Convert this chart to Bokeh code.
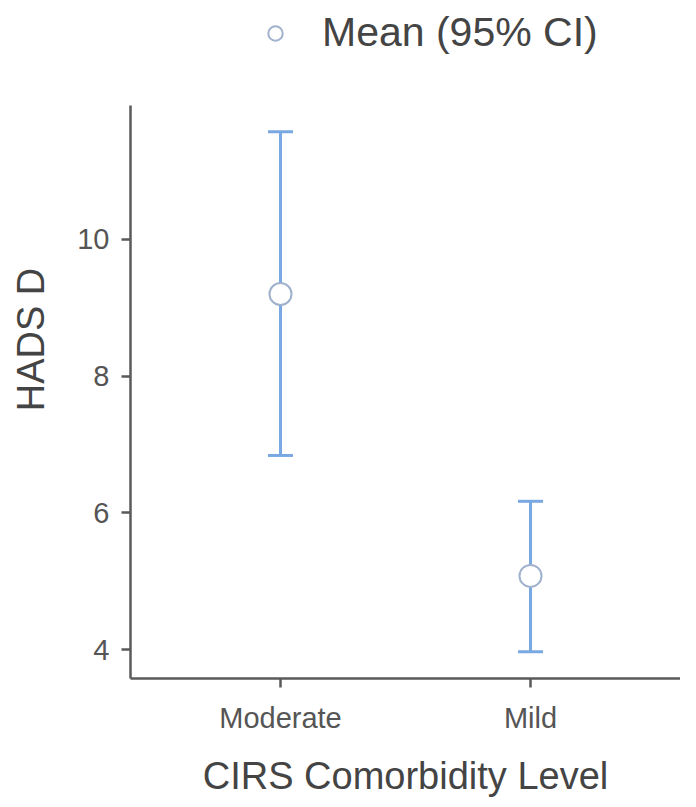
from bokeh.plotting import figure
from bokeh.models import (ColumnDataSource, FactorRange, Range1d, FixedTicker,
                          Whisker, TeeHead, Legend, LegendItem)
from bokeh.embed import file_html
from bokeh.resources import INLINE

# Data
categories = ["Moderate", "Mild"]
means = [9.2, 5.08]
lower = [6.84, 3.97]
upper = [11.57, 6.17]
y_ticks = [4, 6, 8, 10]
y_axis_min, y_axis_max = 3.58, 11.96

src = ColumnDataSource(dict(x=categories, mean=means, lower=lower, upper=upper))

FONT = "Liberation Sans"
BLUE = "#7aa8e2"

# frame extends up to the top so the legend (drawn inside the frame) is not clipped;
# the visible y axis is limited with bounds
p = figure(width=680, height=799, output_backend="svg", toolbar_location=None,
           x_range=FactorRange(factors=categories, range_padding=0.1,
                               range_padding_units="absolute"),
           y_range=Range1d(y_axis_min, 13.49),
           min_border_left=130, min_border_right=0, min_border_top=0,
           min_border_bottom=112)
p.outline_line_color = None
p.grid.visible = False
p.background_fill_color = "white"

wh = Whisker(source=src, base="x", upper="upper", lower="lower",
             line_color=BLUE, line_width=3,
             upper_head=TeeHead(size=25, line_color=BLUE, line_width=3),
             lower_head=TeeHead(size=25, line_color=BLUE, line_width=3))
p.add_layout(wh)

pts = p.scatter("x", "mean", source=src, size=22, marker="circle",
                fill_color="white", line_color="#9fb1cc", line_width=2)

# axes
for ax in (p.xaxis[0], p.yaxis[0]):
    ax.axis_line_color = "#5a5a5a"
    ax.axis_line_width = 2.5
    ax.major_tick_line_color = "#5a5a5a"
    ax.major_tick_line_width = 2.5
    ax.major_tick_out = 9
    ax.major_tick_in = 0
    ax.minor_tick_line_color = None
    ax.major_label_text_font = FONT
    ax.major_label_text_color = "#555555"
    ax.major_label_text_font_size = "29px"
    ax.axis_label_text_font = FONT
    ax.axis_label_text_font_style = "normal"
    ax.axis_label_text_color = "#444444"
    ax.axis_label_text_font_size = "38px"

p.yaxis[0].ticker = FixedTicker(ticks=y_ticks)
p.yaxis[0].bounds = (y_axis_min, y_axis_max)
p.yaxis[0].axis_label = "HADS D"
p.yaxis[0].major_label_standoff = 12
p.yaxis[0].axis_label_standoff = 22
p.xaxis[0].axis_label = "CIRS Comorbidity Level"
p.xaxis[0].major_label_standoff = 14
p.xaxis[0].axis_label_standoff = 18

legend = Legend(items=[LegendItem(label="Mean (95% CI)", renderers=[pts])],
                location=(127, 622), orientation="horizontal",
                label_text_font=FONT, label_text_font_size="41px",
                label_text_color="#444444",
                glyph_width=36, glyph_height=36, label_standoff=29,
                padding=0, margin=0, border_line_color=None,
                background_fill_alpha=0)
p.add_layout(legend, "center")

open("out.html", "w").write(file_html(p, INLINE))
